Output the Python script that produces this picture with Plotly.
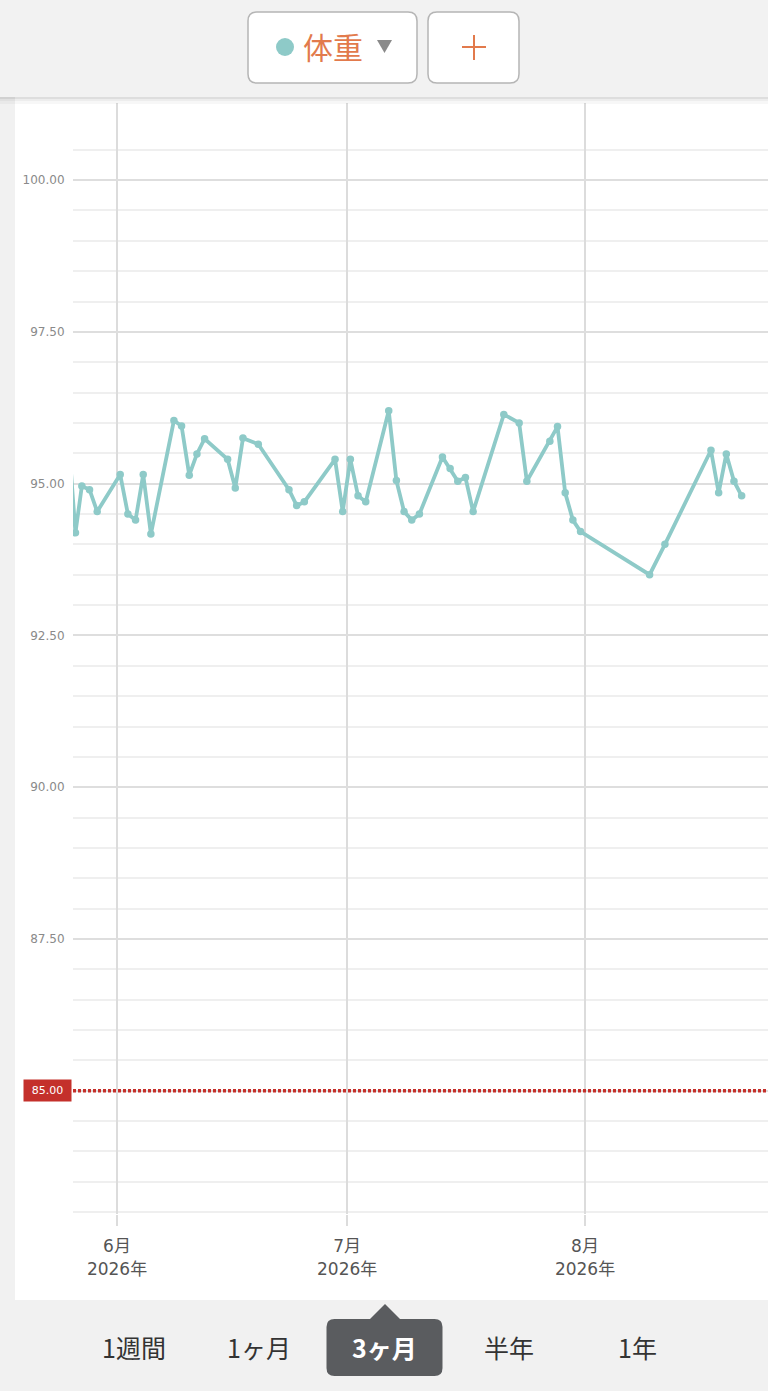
import plotly.graph_objects as go

# ---------------- data ----------------
dates = [
    "2026-05-25 10:00", "2026-05-26 14:00", "2026-05-27 10:00", "2026-05-28 10:00", "2026-05-29 10:00",
    "2026-06-01 10:00", "2026-06-02 10:00", "2026-06-03 10:00", "2026-06-04 10:00", "2026-06-05 10:00",
    "2026-06-08 10:00", "2026-06-09 10:00", "2026-06-10 10:00", "2026-06-11 10:00", "2026-06-12 10:00",
    "2026-06-15 10:00", "2026-06-16 10:00", "2026-06-17 10:00", "2026-06-19 10:00", "2026-06-23 10:00",
    "2026-06-24 10:00", "2026-06-25 10:00", "2026-06-29 10:00", "2026-06-30 10:00", "2026-07-01 10:00",
    "2026-07-02 10:00", "2026-07-03 10:00", "2026-07-06 10:00", "2026-07-07 10:00", "2026-07-08 10:00",
    "2026-07-09 10:00", "2026-07-10 10:00", "2026-07-13 10:00", "2026-07-14 10:00", "2026-07-15 10:00",
    "2026-07-16 10:00", "2026-07-17 10:00", "2026-07-21 10:00", "2026-07-23 10:00", "2026-07-24 10:00",
    "2026-07-27 10:00", "2026-07-28 10:00", "2026-07-29 10:00", "2026-07-30 10:00", "2026-07-31 10:00",
    "2026-08-09 10:00", "2026-08-11 10:00", "2026-08-17 10:00", "2026-08-18 10:00", "2026-08-19 10:00",
    "2026-08-20 10:00", "2026-08-21 10:00",
]
weights = [
    96.20, 94.19, 94.96, 94.90, 94.54,
    95.15, 94.50, 94.40, 95.15, 94.17,
    96.04, 95.95, 95.14, 95.49, 95.74,
    95.40, 94.93, 95.75, 95.65, 94.90,
    94.64, 94.70, 95.40, 94.54, 95.40,
    94.80, 94.70, 96.20, 95.05, 94.54,
    94.40, 94.50, 95.44, 95.25, 95.04,
    95.10, 94.54, 96.14, 96.00, 95.04,
    95.70, 95.94, 94.85, 94.40, 94.21,
    93.50, 94.00, 95.55, 94.85, 95.49,
    95.04, 94.80,
]
target_weight = 85.00
target_label = "85.00"

y_major_vals = [85.0, 87.5, 90.0, 92.5, 95.0, 97.5, 100.0]
y_major_text = ["", "87.50", "90.00", "92.50", "95.00", "97.50", "100.00"]
y_minor_vals = [83.0, 83.5, 84.0, 84.5, 85.5, 86.0, 86.5, 87.0, 88.0, 88.5, 89.0, 89.5,
                90.5, 91.0, 91.5, 92.0, 93.0, 93.5, 94.0, 94.5, 95.5, 96.0, 96.5, 97.0,
                98.0, 98.5, 99.0, 99.5, 100.5]

x_tick_vals = ["2026-06-01", "2026-07-01", "2026-08-01"]
x_tick_text = ["6月<br>2026年", "7月<br>2026年", "8月<br>2026年"]

series_name = "体重"
tabs = ["1週間", "1ヶ月", "3ヶ月", "半年", "1年"]
selected_tab = "3ヶ月"

# ---------------- layout helpers ----------------
W, H = 768, 1391
PL, PT, PR, PB = 73, 103, 0, 177
PW, PH = W - PL - PR, H - PT - PB


def fx(x):
    return (x - PL) / PW


def fy(y):
    return (PT + PH - y) / PH


def rrect_path(x0, y0, x1, y1, r):
    def p(x, y):
        return f"{fx(x):.5f},{fy(y):.5f}"
    return (f"M {p(x0 + r, y0)} L {p(x1 - r, y0)} Q {p(x1, y0)} {p(x1, y0 + r)} "
            f"L {p(x1, y1 - r)} Q {p(x1, y1)} {p(x1 - r, y1)} "
            f"L {p(x0 + r, y1)} Q {p(x0, y1)} {p(x0, y1 - r)} "
            f"L {p(x0, y0 + r)} Q {p(x0, y0)} {p(x0 + r, y0)} Z")


TEAL = "#8ecac8"
ORANGE = "#e27a4c"
RED = "#c4302b"
CJK = "Noto Sans CJK JP"

fig = go.Figure()
fig.add_trace(go.Scatter(
    x=dates, y=weights, mode="lines+markers", name=series_name,
    line=dict(color=TEAL, width=3.8),
    marker=dict(color=TEAL, size=7.5),
    hoverinfo="skip",
))

shapes = []
# white card
shapes.append(dict(type="rect", xref="paper", yref="paper", x0=fx(15), x1=fx(800),
                   y0=fy(1300), y1=fy(96), fillcolor="white", line=dict(width=0), layer="below"))
# target line
shapes.append(dict(type="line", xref="paper", yref="y", x0=0, x1=1, y0=target_weight, y1=target_weight,
                   line=dict(color=RED, width=3.5, dash="3px,2px"), layer="above"))
# header background + shadow
shapes.append(dict(type="rect", xref="paper", yref="paper", x0=fx(-5), x1=fx(800),
                   y0=fy(97), y1=fy(-5), fillcolor="#f2f2f2", line=dict(width=0), layer="above"))
for (a, b, al) in [(97, 99, 0.13), (99, 101, 0.07), (101, 104, 0.03)]:
    shapes.append(dict(type="rect", xref="paper", yref="paper", x0=fx(-5), x1=fx(800),
                       y0=fy(b), y1=fy(a), fillcolor=f"rgba(0,0,0,{al})", line=dict(width=0), layer="above"))
# header buttons
shapes.append(dict(type="path", xref="paper", yref="paper", path=rrect_path(248, 12, 417, 83, 9),
                   fillcolor="white", line=dict(color="#b5b5b5", width=1.5), layer="above"))
shapes.append(dict(type="path", xref="paper", yref="paper", path=rrect_path(428, 12, 519, 83, 9),
                   fillcolor="white", line=dict(color="#b5b5b5", width=1.5), layer="above"))
shapes.append(dict(type="circle", xref="paper", yref="paper", x0=fx(276), x1=fx(294),
                   y0=fy(56), y1=fy(38), fillcolor=TEAL, line=dict(width=0), layer="above"))
shapes.append(dict(type="path", xref="paper", yref="paper",
                   path=f"M {fx(377)},{fy(40)} L {fx(392)},{fy(40)} L {fx(384.5)},{fy(53)} Z",
                   fillcolor="#8a8a8a", line=dict(width=0), layer="above"))
shapes.append(dict(type="line", xref="paper", yref="paper", x0=fx(462), x1=fx(486), y0=fy(47), y1=fy(47),
                   line=dict(color=ORANGE, width=2), layer="above"))
shapes.append(dict(type="line", xref="paper", yref="paper", x0=fx(474), x1=fx(474), y0=fy(35), y1=fy(60),
                   line=dict(color=ORANGE, width=2), layer="above"))
# selected tab bubble
shapes.append(dict(type="path", xref="paper", yref="paper", path=rrect_path(326.5, 1319, 442.5, 1376, 8),
                   fillcolor="#5a5c5f", line=dict(width=0), layer="above"))
shapes.append(dict(type="path", xref="paper", yref="paper",
                   path=f"M {fx(369)},{fy(1320)} L {fx(385)},{fy(1304)} L {fx(401)},{fy(1320)} Z",
                   fillcolor="#5a5c5f", line=dict(width=0), layer="above"))

annotations = []
# target label box
annotations.append(dict(xref="paper", yref="y", x=0, y=target_weight, xanchor="right", yanchor="middle",
                        xshift=-1, text=target_label, showarrow=False, bgcolor=RED, width=45, height=19,
                        font=dict(family="DejaVu Sans", size=11, color="white")))
# header text
annotations.append(dict(xref="paper", yref="paper", x=fx(333), y=fy(46), xanchor="center", yanchor="middle",
                        text=series_name, showarrow=False, font=dict(family=CJK, size=30, color=ORANGE)))
# tabs
tab_x = [134, 259, 384, 509, 637]
for t, cx in zip(tabs, tab_x):
    sel = (t == selected_tab)
    annotations.append(dict(xref="paper", yref="paper", x=fx(cx), y=fy(1347), xanchor="center",
                            yanchor="middle", text=f"<b>{t}</b>" if sel else t, showarrow=False,
                            font=dict(family=CJK, size=25, color="white" if sel else "#333333")))

fig.update_layout(
    width=W, height=H,
    margin=dict(l=PL, r=PR, t=PT, b=PB, autoexpand=False),
    paper_bgcolor="#f1f1f1",
    plot_bgcolor="white",
    showlegend=False,
    shapes=shapes,
    annotations=annotations,
    xaxis=dict(
        type="date",
        range=["2026-05-26 06:20", "2026-08-24 20:25"],
        tickmode="array", tickvals=x_tick_vals, ticktext=x_tick_text,
        showgrid=True, gridcolor="#dcdcdc", gridwidth=1.5,
        ticks="outside", ticklen=11, tickcolor="#dcdcdc", tickwidth=1.5,
        ticklabelstandoff=6,
        tickfont=dict(family="DejaVu Sans, " + CJK, size=17, color="#555555"),
        showline=False, zeroline=False, fixedrange=True,
    ),
    yaxis=dict(
        range=[82.97, 101.27],
        tickmode="array", tickvals=y_major_vals, ticktext=y_major_text,
        showgrid=True, gridcolor="#dedede", gridwidth=1.5,
        minor=dict(tickmode="array", tickvals=y_minor_vals, showgrid=True,
                   gridcolor="#efefef", gridwidth=1.5, ticks=""),
        ticks="outside", ticklen=5, tickcolor="rgba(0,0,0,0)",
        tickfont=dict(family="DejaVu Sans", size=12, color="#8a8a8a"),
        showline=False, zeroline=False, fixedrange=True,
    ),
)

fig.write_html(
    "out.html",
    config={"displayModeBar": False},
    post_script="document.body.style.margin='0';document.body.style.overflow='hidden';",
)
